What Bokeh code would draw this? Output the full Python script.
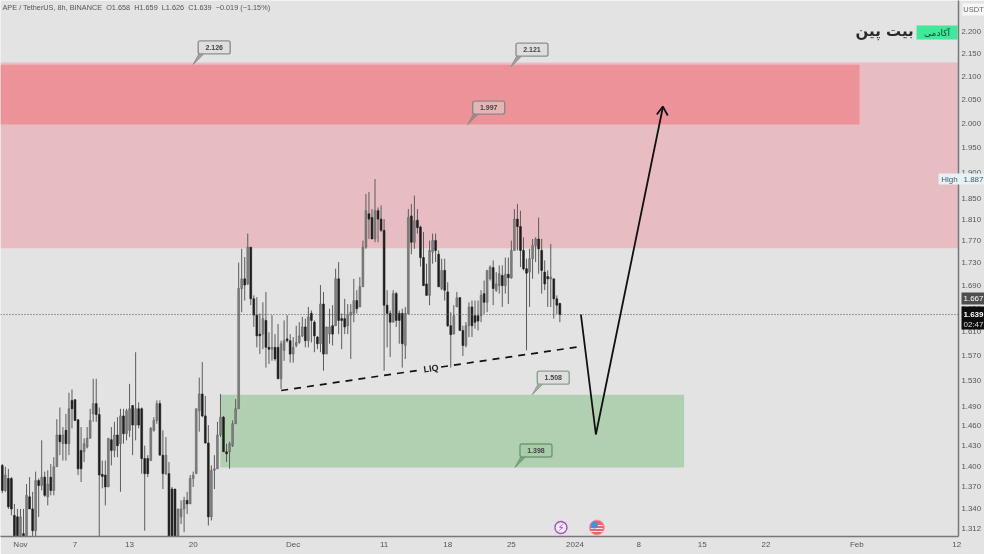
import math
from bokeh.plotting import figure
from bokeh.layouts import column
from bokeh.models import FixedTicker, NumeralTickFormatter, Span, ColumnDataSource, Range1d
from bokeh.core.properties import value
from bokeh.embed import file_html
from bokeh.resources import INLINE

BG = "#e3e3e3"
first_day = -2.0
bar_days = 1 / 3

# (high, low, body top, body bottom, direction)
bars = [
(1.403,1.361,1.401,1.365,"d"),(1.399,1.363,1.387,1.365,"u"),(1.396,1.339,1.382,1.342,"d"),(1.384,1.330,1.382,1.339,"d"),
(1.346,1.29,1.330,1.29,"d"),(1.339,1.29,1.328,1.29,"d"),(1.339,1.29,1.328,1.29,"u"),(1.339,1.29,1.305,1.29,"d"),
(1.374,1.29,1.358,1.29,"u"),(1.384,1.339,1.356,1.339,"d"),(1.363,1.29,1.339,1.309,"d"),(1.392,1.29,1.379,1.309,"u"),
(1.382,1.328,1.379,1.372,"d"),(1.438,1.365,1.384,1.372,"u"),(1.392,1.356,1.384,1.358,"d"),(1.394,1.344,1.374,1.356,"u"),
(1.403,1.358,1.384,1.365,"d"),(1.413,1.358,1.399,1.365,"u"),(1.470,1.399,1.446,1.399,"u"),(1.488,1.416,1.446,1.436,"d"),
(1.458,1.408,1.446,1.433,"u"),(1.478,1.408,1.453,1.433,"d"),(1.511,1.416,1.486,1.433,"u"),(1.516,1.456,1.499,1.486,"d"),
(1.501,1.468,1.500,1.468,"d"),(1.470,1.387,1.469,1.396,"d"),(1.458,1.377,1.423,1.396,"d"),(1.441,1.406,1.433,1.421,"u"),
(1.458,1.426,1.441,1.428,"u"),(1.486,1.441,1.468,1.441,"u"),(1.533,1.466,1.494,1.478,"u"),(1.533,1.466,1.494,1.477,"d"),
(1.488,1.29,1.477,1.387,"d"),(1.408,1.368,1.388,1.385,"d"),(1.408,1.344,1.387,1.370,"d"),(1.441,1.370,1.441,1.370,"u"),
(1.458,1.401,1.439,1.423,"d"),(1.466,1.413,1.446,1.423,"u"),(1.473,1.413,1.446,1.430,"d"),(1.486,1.363,1.475,1.433,"u"),
(1.486,1.433,1.475,1.448,"d"),(1.486,1.438,1.483,1.448,"u"),(1.525,1.443,1.486,1.453,"u"),(1.491,1.416,1.491,1.461,"d"),
(1.576,1.438,1.486,1.461,"u"),(1.496,1.456,1.486,1.461,"d"),(1.488,1.389,1.486,1.411,"d"),(1.430,1.309,1.411,1.389,"d"),
(1.416,1.384,1.411,1.389,"d"),(1.458,1.408,1.456,1.408,"u"),(1.473,1.451,1.468,1.453,"u"),(1.499,1.463,1.494,1.468,"u"),
(1.499,1.416,1.494,1.416,"d"),(1.453,1.367,1.416,1.389,"d"),(1.443,1.387,1.416,1.389,"u"),(1.406,1.29,1.389,1.29,"d"),
(1.370,1.29,1.367,1.29,"d"),(1.367,1.29,1.367,1.29,"d"),(1.339,1.29,1.339,1.29,"u"),(1.351,1.318,1.339,1.328,"u"),
(1.356,1.307,1.351,1.339,"u"),(1.363,1.332,1.351,1.346,"d"),(1.387,1.346,1.382,1.346,"u"),(1.392,1.370,1.387,1.382,"u"),
(1.486,1.389,1.486,1.389,"u"),(1.535,1.451,1.509,1.483,"u"),(1.560,1.473,1.509,1.475,"d"),(1.506,1.433,1.475,1.434,"d"),
(1.461,1.316,1.434,1.328,"d"),(1.401,1.323,1.394,1.328,"u"),(1.416,1.367,1.396,1.394,"u"),(1.466,1.396,1.446,1.396,"u"),
(1.509,1.443,1.473,1.446,"u"),(1.475,1.421,1.473,1.421,"d"),(1.433,1.406,1.421,1.418,"d"),(1.436,1.396,1.433,1.421,"u"),
(1.468,1.428,1.463,1.430,"u"),(1.501,1.463,1.486,1.463,"u"),(1.730,1.486,1.684,1.486,"u"),(1.755,1.643,1.701,1.684,"u"),
(1.740,1.663,1.701,1.690,"d"),(1.783,1.690,1.758,1.692,"u"),(1.758,1.655,1.758,1.666,"d"),(1.672,1.618,1.666,1.638,"d"),
(1.669,1.584,1.638,1.603,"d"),(1.641,1.573,1.606,1.603,"d"),(1.660,1.581,1.632,1.606,"u"),(1.678,1.551,1.629,1.584,"d"),
(1.609,1.557,1.584,1.581,"d"),(1.638,1.562,1.584,1.581,"u"),(1.606,1.562,1.584,1.565,"d"),(1.623,1.533,1.584,1.533,"d"),
(1.595,1.517,1.590,1.533,"u"),(1.629,1.562,1.595,1.579,"u"),(1.638,1.592,1.598,1.595,"d"),(1.606,1.559,1.595,1.573,"d"),
(1.601,1.559,1.584,1.573,"u"),(1.620,1.584,1.592,1.587,"u"),(1.626,1.590,1.603,1.592,"u"),(1.635,1.601,1.618,1.603,"u"),
(1.632,1.584,1.618,1.595,"d"),(1.652,1.584,1.635,1.595,"u"),(1.646,1.592,1.641,1.629,"d"),(1.629,1.576,1.626,1.603,"d"),
(1.603,1.581,1.601,1.590,"d"),(1.690,1.576,1.657,1.590,"u"),(1.678,1.546,1.657,1.573,"d"),(1.618,1.576,1.618,1.573,"u"),
(1.649,1.590,1.618,1.606,"u"),(1.655,1.587,1.620,1.606,"d"),(1.719,1.620,1.701,1.620,"u"),(1.731,1.606,1.701,1.629,"d"),
(1.641,1.581,1.632,1.629,"d"),(1.666,1.606,1.632,1.618,"d"),(1.657,1.606,1.638,1.620,"u"),(1.657,1.565,1.643,1.638,"u"),
(1.701,1.626,1.663,1.641,"u"),(1.681,1.641,1.663,1.649,"d"),(1.704,1.652,1.687,1.652,"u"),(1.770,1.687,1.758,1.687,"u"),
(1.858,1.755,1.826,1.758,"u"),(1.862,1.773,1.820,1.810,"d"),(1.829,1.773,1.813,1.773,"d"),(1.887,1.767,1.826,1.773,"u"),
(1.832,1.767,1.826,1.810,"d"),(1.836,1.786,1.810,1.789,"d"),(1.810,1.546,1.789,1.655,"d"),(1.681,1.584,1.655,1.641,"d"),
(1.646,1.568,1.641,1.626,"d"),(1.681,1.626,1.675,1.626,"u"),(1.678,1.618,1.675,1.629,"d"),(1.646,1.590,1.641,1.629,"d"),
(1.649,1.551,1.641,1.590,"d"),(1.652,1.565,1.641,1.587,"u"),(1.829,1.640,1.813,1.640,"u"),(1.839,1.745,1.816,1.767,"d"),
(1.855,1.755,1.807,1.767,"u"),(1.829,1.783,1.808,1.794,"d"),(1.798,1.723,1.795,1.739,"d"),(1.786,1.689,1.739,1.689,"d"),
(1.728,1.672,1.692,1.672,"d"),(1.770,1.655,1.752,1.672,"u"),(1.783,1.728,1.770,1.749,"u"),(1.783,1.731,1.770,1.752,"d"),
(1.752,1.687,1.745,1.687,"d"),(1.737,1.681,1.716,1.684,"u"),(1.737,1.663,1.716,1.681,"d"),(1.695,1.618,1.678,1.620,"d"),
(1.643,1.551,1.620,1.605,"d"),(1.655,1.606,1.637,1.606,"u"),(1.678,1.652,1.668,1.652,"u"),(1.669,1.612,1.668,1.612,"d"),
(1.620,1.570,1.612,1.587,"d"),(1.626,1.584,1.620,1.587,"u"),(1.660,1.601,1.652,1.620,"u"),(1.663,1.601,1.652,1.620,"d"),
(1.663,1.615,1.637,1.626,"d"),(1.663,1.612,1.637,1.628,"d"),(1.681,1.626,1.672,1.637,"u"),(1.698,1.640,1.675,1.660,"d"),
(1.716,1.643,1.716,1.660,"u"),(1.725,1.698,1.722,1.701,"u"),(1.734,1.655,1.721,1.684,"d"),(1.713,1.678,1.692,1.681,"u"),
(1.725,1.675,1.710,1.689,"u"),(1.725,1.652,1.707,1.689,"d"),(1.739,1.675,1.709,1.689,"u"),(1.739,1.657,1.709,1.703,"d"),
(1.770,1.701,1.752,1.703,"u"),(1.829,1.752,1.810,1.752,"u"),(1.839,1.752,1.810,1.796,"d"),(1.826,1.722,1.796,1.752,"d"),
(1.776,1.716,1.752,1.719,"d"),(1.737,1.579,1.719,1.711,"d"),(1.755,1.652,1.737,1.713,"u"),(1.773,1.701,1.761,1.737,"u"),
(1.776,1.731,1.773,1.761,"u"),(1.813,1.710,1.773,1.755,"d"),(1.773,1.675,1.752,1.716,"d"),(1.734,1.681,1.713,1.692,"d"),
(1.716,1.652,1.705,1.701,"d"),(1.764,1.652,1.704,1.701,"u"),(1.701,1.632,1.701,1.666,"d"),(1.672,1.640,1.666,1.655,"d"),
(1.659,1.626,1.658,1.639,"d"),
]

x_tick_days = [0, 6, 12, 19, 30, 40, 47, 54, 61, 68, 75, 82, 92, 103]
x_tick_labels = ["Nov", "7", "13", "20", "Dec", "11", "18", "25", "2024", "8", "15", "22", "Feb", "12"]
y_ticks = [2.2, 2.15, 2.1, 2.05, 2.0, 1.95, 1.9, 1.85, 1.81, 1.77, 1.73, 1.69, 1.65, 1.61, 1.57, 1.53,
           1.49, 1.46, 1.43, 1.40, 1.37, 1.34, 1.312]

supply_wide = (1.756, 2.13)
supply_box = (1.997, 2.125, 92.3)
demand_box = (1.398, 1.508, 21.98, 73.0)
callouts = [("2.126", 19.0, 2.126, "#dedede", "#8f8f8f"), ("2.121", 53.96, 2.121, "#dedede", "#8f8f8f"),
            ("1.997", 49.2, 1.997, "#e6b4b6", "#8f8686"), ("1.508", 56.3, 1.508, "#dedede", "#8f9f8f"),
            ("1.398", 54.4, 1.398, "#a9cca9", "#6d9a72")]

PPD, X0 = 9.1, 20.0
PPL, Y0 = 961.5, 31.0
def dx(px): return (px - X0) / PPD
def py(y): return 2.2 * math.exp(-(y - Y0) / PPL)

p = figure(width=984, height=554, frame_width=959, frame_height=536,
           x_range=Range1d(dx(0), dx(959)), y_range=Range1d(py(536), py(0)),
           y_axis_type="log", y_axis_location="right", output_backend="svg", toolbar_location=None,
           min_border_left=0, min_border_top=0, min_border_right=0, min_border_bottom=0,
           background_fill_color=BG, border_fill_color=BG,
           styles={"position": "fixed", "left": "0px", "top": "0px"})
p.outline_line_color = None
p.grid.visible = False

p.xaxis.ticker = FixedTicker(ticks=x_tick_days)
p.xaxis.major_label_overrides = dict(zip(x_tick_days, x_tick_labels))
p.yaxis.ticker = FixedTicker(ticks=y_ticks)
p.yaxis.formatter = NumeralTickFormatter(format="0.000")
for ax in (p.xaxis[0], p.yaxis[0]):
    ax.major_label_text_font = "Liberation Sans"
    ax.major_label_text_color = "#555555"
    ax.major_tick_line_color = None
    ax.minor_tick_line_color = None
    ax.major_tick_out = 0
    ax.major_tick_in = 0
    ax.minor_tick_out = 0
    ax.minor_tick_in = 0
    ax.axis_line_color = "#777777"
    ax.axis_line_width = 1.5
p.xaxis[0].major_label_text_font_size = "8px"
p.yaxis[0].major_label_text_font_size = "7.8px"
p.xaxis[0].major_label_standoff = 3
p.yaxis[0].major_label_standoff = 3

# zones
p.quad(left=dx(0), right=dx(959), bottom=supply_wide[0], top=supply_wide[1], fill_color="#e8bdc2", line_color=None)
p.quad(left=dx(0), right=supply_box[2], bottom=supply_box[0], top=supply_box[1], fill_color="#ec9298", line_color=None)
p.quad(left=demand_box[2], right=demand_box[3], bottom=demand_box[0], top=demand_box[1], fill_color="#b1d0b1", line_color=None)

# candles
xs = [first_day + bar_days * i for i in range(len(bars))]
src = ColumnDataSource(dict(
    x=xs,
    high=[b[0] for b in bars], low=[b[1] for b in bars],
    top=[b[2] for b in bars], bottom=[b[3] for b in bars],
    color=["#1e1e1e" if b[4] == "d" else "#7f7f7f" for b in bars],
    line=["#1e1e1e" if b[4] == "d" else "#666666" for b in bars]))
p.segment("x", "high", "x", "low", source=src, line_color="#5c5c5c", line_width=1)
p.vbar("x", 0.2, "top", "bottom", source=src, fill_color="color", line_color="line", line_width=0.6)

# last price line
p.add_layout(Span(location=1.639, dimension="width", line_color="#555555", line_width=1, line_dash="1 2"))

# LIQ line
p.line([dx(281), dx(420)], [py(390), py(369.6)], line_color="#111111", line_width=1.7, line_dash="7 6")
p.line([dx(441), dx(581)], [py(366.5), py(346)], line_color="#111111", line_width=1.7, line_dash="7 6")
p.text([dx(431)], [py(368)], text=["LIQ"], angle=0.14, text_align="center", text_baseline="middle",
       text_font=value("Liberation Sans"), text_font_style="bold", text_font_size="9px", text_color="#222222")

# projected path
p.line([dx(581), dx(596), dx(663)], [py(314), py(434), py(107)], line_color="#111111", line_width=1.8)
p.line([dx(657), dx(663), dx(668)], [py(114), py(106), py(115)], line_color="#111111", line_width=1.8)

# callouts
for label, d, price, fill, edge in callouts:
    ax_, ay = (d * PPD + X0), Y0 - PPL * math.log(price / 2.2)
    p.patch([d, dx(ax_ + 6), dx(ax_ + 11)], [price, py(ay - 11), py(ay - 11)], fill_color=edge, line_color=edge, fill_alpha=0.8)
    p.quad(left=dx(ax_ + 5), right=dx(ax_ + 37), top=py(ay - 23.5), bottom=py(ay - 10.5), fill_color=fill,
           line_color=edge, line_width=1.4, border_radius=2)
    p.text([dx(ax_ + 21)], [py(ay - 17)], text=[label], text_align="center", text_baseline="middle",
           text_font=value("Liberation Sans"), text_font_style="bold", text_font_size="7px", text_color="#444444")

# header
p.text([dx(2)], [py(7)], text=["APE / TetherUS, 8h, BINANCE\u00a0\u00a0O1.658\u00a0\u00a0H1.659\u00a0\u00a0L1.626\u00a0\u00a0C1.639\u00a0\u00a0\u22120.019 (\u22121.15%)"],
       text_baseline="middle", text_font=value("Liberation Sans"), text_font_size="7.3px", text_color="#555555")

# logo
p.quad(left=dx(917), right=dx(958), top=py(25), bottom=py(39), fill_color="#40e89a", line_color=None)
p.text([dx(937.5)], [py(32)], text=["آکادمی"], text_align="center", text_baseline="middle",
       text_font=value("DejaVu Sans"), text_font_size="9px", text_color="#1c3a2c")
p.text([dx(885)], [py(30)], text=["بیت پین"], text_align="center", text_baseline="middle",
       text_font=value("DejaVu Sans"), text_font_style="bold", text_font_size="15px", text_color="#2a2a2a")

# event icons
p.scatter([dx(561)], [py(527)], size=12, marker="circle", fill_color="#f3eef6", line_color="#a24fc4", line_width=1.4)
p.text([dx(561)], [py(527)], text=["\u26a1"], text_align="center", text_baseline="middle",
       text_font=value("DejaVu Sans"), text_font_style="bold", text_font_size="10px", text_color="#a24fc4")
p.scatter([dx(597)], [py(527)], size=15, marker="circle", fill_color="#f0626c", line_color="#f3a0a5", line_width=1)
p.segment([dx(591), dx(591), dx(591)], [py(525), py(528), py(531)], [dx(603), dx(603), dx(603)], [py(525), py(528), py(531)],
          line_color="#f6e6e6", line_width=1)
p.scatter([dx(594.5)], [py(524.5)], size=7, marker="circle", fill_color="#4a90e2", line_color=None)

# price scale tags, in a transparent pane over the whole page
q = figure(width=984, height=554, frame_width=984, frame_height=554,
           x_range=Range1d(0, 984), y_range=Range1d(554, 0), output_backend="svg", toolbar_location=None,
           min_border_left=0, min_border_top=0, min_border_right=0, min_border_bottom=0,
           background_fill_color=None, border_fill_color=None, x_axis_location=None, y_axis_location=None,
           styles={"position": "fixed", "left": "0px", "top": "0px"})
q.outline_line_color = None
q.grid.visible = False

def box(left, right, top, bottom, fill):
    q.quad(left=left, right=right, top=top, bottom=bottom, fill_color=fill, line_color=None)

def word(text, x, y, color, bold=False, size="8px"):
    q.text([x], [y], text=[text], text_align="center", text_baseline="middle", text_font=value("Liberation Sans"),
           text_font_size=size, text_color=color, text_font_style="bold" if bold else "normal")

box(0, 984, 549, 554, BG)
box(962, 984, 3, 15, "#f7f7f7")
word("USDT", 973, 9, "#666666", size="7.5px")
box(938, 960, 173, 184, "#e6f1f8")
word("High", 949, 178.5, "#4b5a66")
box(960, 984, 173, 184, "#e6f1f8")
word("1.887", 973, 178.5, "#4b5a66")
box(961, 984, 292, 304, "#4f4f4f")
word("1.667", 973, 298, "#ffffff")
box(961, 984, 306, 329, "#0d0d0d")
word("1.639", 973, 314, "#ffffff", bold=True)
word("02:47", 973, 323.5, "#dddddd")

open("out.html", "w").write(file_html(column(p, q), INLINE))
